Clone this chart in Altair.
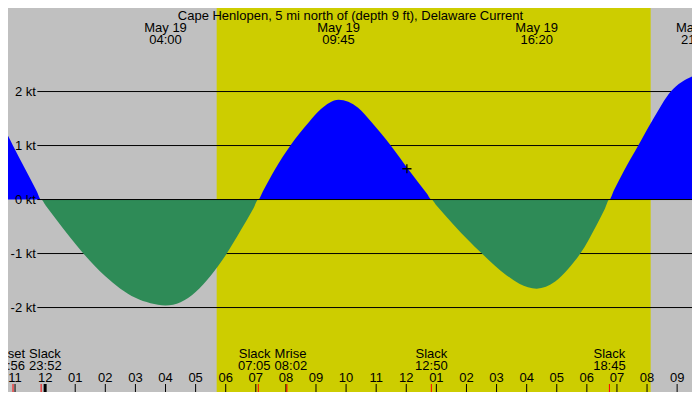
import altair as alt
import pandas as pd

# ---------------- data ----------------
TITLE = "Cape Henlopen, 5 mi north of (depth 9 ft), Delaware Current"

# hours relative to midnight May 19, current in knots
curve_time = [-1.234, -1.071, -0.283, -0.133, 0.017, 0.357, 0.80, 1.256, 2.00, 2.50,
              3.00, 3.50, 4.00, 4.50, 5.00, 5.50, 5.997, 6.50, 6.933, 7.083,
              7.233, 7.630, 8.149, 8.776, 9.156, 9.750, 10.399, 10.834, 11.484, 12.078,
              12.683, 12.833, 12.983, 13.594, 14.513, 15.325, 15.756, 16.333, 16.948, 17.370,
              17.782, 18.334, 18.600, 18.750, 18.900, 19.221, 19.708, 20.195, 20.789, 21.494]
curve_kt = [1.18, 1.00, 0.16, 0.00, -0.11, -0.36, -0.68, -0.99, -1.42, -1.65,
            -1.82, -1.92, -1.96, -1.90, -1.71, -1.41, -1.03, -0.57, -0.15, 0.00,
            0.15, 0.55, 1.00, 1.44, 1.67, 1.85, 1.70, 1.44, 1.00, 0.55,
            0.11, 0.00, -0.095, -0.48, -1.00, -1.40, -1.56, -1.65, -1.52, -1.29,
            -1.00, -0.46, -0.17, 0.00, 0.17, 0.52, 1.00, 1.48, 2.00, 2.28]

hour_times = list(range(-1, 22))
hour_labels = ["11", "12", "01", "02", "03", "04", "05", "06", "07", "08", "09", "10",
               "11", "12", "01", "02", "03", "04", "05", "06", "07", "08", "09"]

sunrise, sunset = 5.70, 20.12

extreme_times = [4.000, 9.750, 16.333, 21.667]
extreme_dates = ["May 19", "May 19", "May 19", "May 19"]
extreme_clock = ["04:00", "09:45", "16:20", "21:40"]

event_times = [-1.067, -0.133, 7.083, 8.033, 12.833, 18.750]
event_names = ["Mset", "Slack", "Slack", "Mrise", "Slack", "Slack"]
event_clock = ["22:56", "23:52", "07:05", "08:02", "12:50", "18:45"]

grid_kt = [2, 1, -1, -2]
axis_kt = [2, 1, 0, -1, -2]
axis_labels = ["2 kt", "1 kt", "0 kt", "-1 kt", "-2 kt"]

marker_time = [12.02]
marker_kt = [0.57]

# ---------------- layout / style ----------------
W, H = 684, 384
SX = W / 700.0
X0, X1 = -1.234, 21.494
Y0, Y1 = -3.564, 3.547
FONT = "Liberation Sans"
FS = 13
GRAY = "#c0c0c0"
DAY = "#cdcd00"
FLOOD = "#0000ff"
EBB = "#2e8b57"
CLOSE = 1.2  # hours: closer event labels are pushed apart

xs = alt.Scale(domain=[X0, X1], nice=False, zero=False)
ys = alt.Scale(domain=[Y0, Y1], nice=False, zero=False)


def X(f):
    return alt.X(f, type="quantitative", scale=xs, axis=None)


def Y(f):
    return alt.Y(f, type="quantitative", scale=ys, axis=None)


def txt(df, **kw):
    base = dict(font=FONT, fontSize=FS, align="center", baseline="middle", color="black")
    base.update(kw)
    return alt.Chart(df).mark_text(**base)


curve = pd.DataFrame({"t": curve_time, "v": curve_kt})
curve["pos"] = curve["v"].clip(lower=0)
curve["neg"] = curve["v"].clip(upper=0)
curve["zero"] = 0.0

day = alt.Chart(pd.DataFrame({"a": [sunrise], "b": [sunset]})).mark_rect(color=DAY).encode(
    x=X("a"), x2="b", y=alt.value(0), y2=alt.value(H))

grid = alt.Chart(pd.DataFrame({"kt": grid_kt})).mark_rule(color="black", strokeWidth=1).encode(
    y=Y("kt"), x=alt.value(30 * SX), x2=alt.value(W))

flood = alt.Chart(curve).mark_area(interpolate="monotone", color=FLOOD).encode(
    x=X("t"), y=Y("pos"), y2="zero")
ebb = alt.Chart(curve).mark_area(interpolate="monotone", color=EBB).encode(
    x=X("t"), y=Y("neg"), y2="zero")

zero_line = alt.Chart(pd.DataFrame({"kt": [0]})).mark_rule(color="black", strokeWidth=1).encode(
    y=Y("kt"), x=alt.value(30 * SX), x2=alt.value(W))

ylab = txt(pd.DataFrame({"kt": axis_kt, "s": axis_labels}), align="right").encode(
    y=Y("kt"), x=alt.value(28.5 * SX), text="s:N")

title = txt(pd.DataFrame({"s": [TITLE]})).encode(
    x=alt.value(350.5 * SX), y=alt.value(7.5), text="s:N")

ext = pd.DataFrame({"t": extreme_times, "d": extreme_dates, "c": extreme_clock})
ext_date = txt(ext).encode(x=X("t"), y=alt.value(20), text="d:N")
ext_clock = txt(ext).encode(x=X("t"), y=alt.value(31.5), text="c:N")

# event labels: neighbouring labels that would collide are split around their midpoint
ev = pd.DataFrame({"t": event_times, "n": event_names, "c": event_clock})
ev["lt"] = ev["t"]
ev["al"] = "center"
for i in range(len(ev) - 1):
    if ev.loc[i + 1, "t"] - ev.loc[i, "t"] < CLOSE:
        mid = (ev.loc[i, "t"] + ev.loc[i + 1, "t"]) / 2
        ev.loc[i, "lt"], ev.loc[i, "al"] = mid, "right"
        ev.loc[i + 1, "lt"], ev.loc[i + 1, "al"] = mid, "left"

ev_layers = []
for al, dx in (("center", 0), ("right", -2), ("left", 2)):
    sub = ev[ev["al"] == al]
    ev_layers.append(txt(sub, align=al, dx=dx).encode(x=X("lt"), y=alt.value(H - 38), text="n:N"))
    ev_layers.append(txt(sub, align=al, dx=dx).encode(x=X("lt"), y=alt.value(H - 26.5), text="c:N"))

hrs = pd.DataFrame({"t": hour_times, "s": hour_labels})
hour_text = txt(hrs).encode(x=X("t"), y=alt.value(H - 14.2), text="s:N")
hour_ticks = alt.Chart(hrs).mark_rule(color="black").encode(
    x=X("t"), y=alt.value(H - 8), y2=alt.value(H),
    strokeWidth=alt.condition("datum.t == 0", alt.value(3), alt.value(1)))
ev_ticks = alt.Chart(ev).mark_rule(color="#ff0000", strokeWidth=1).encode(
    x=X("t"), y=alt.value(H - 8), y2=alt.value(H))

marker = alt.Chart(pd.DataFrame({"t": marker_time, "kt": marker_kt})).mark_point(
    shape="M-1,0L1,0M0,-1L0,1", size=85, stroke="black", strokeWidth=1.3, filled=False,
    opacity=1).encode(x=X("t"), y=Y("kt"))

chart = alt.layer(
    day, grid, flood, ebb, zero_line, ylab, title, ext_date, ext_clock,
    *ev_layers, hour_text, hour_ticks, ev_ticks, marker
).properties(
    width=W, height=H, background=GRAY, padding=0,
    autosize=alt.AutoSizeParams(type="none"),
).configure_view(stroke=None, fill=GRAY)

chart.save("out.html", embed_options={"renderer": "svg", "actions": False})
